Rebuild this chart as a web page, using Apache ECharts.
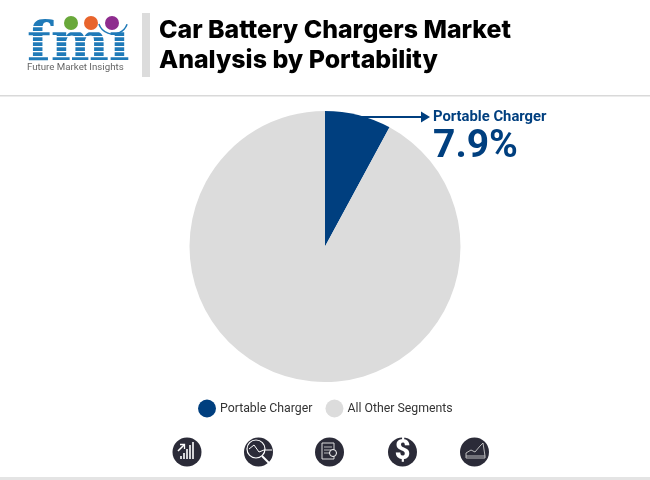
<!DOCTYPE html>
<html><head><meta charset="utf-8">
<style>html,body{margin:0;padding:0;background:#fff}#c{width:650px;height:480px}</style>
<script src="https://cdn.jsdelivr.net/npm/echarts@6/dist/echarts.min.js"></script></head>
<body><div id="c"></div>
<script>
const categories = ['Portable Charger', 'All Other Segments'];
const values = [7.9, 92.1];
const colors = ['#003f7f', '#dcdcdc'];
const titleLines = ['Car Battery Chargers Market', 'Analysis by Portability'];
const calloutName = 'Portable Charger';
const calloutValue = '7.9%';
const logoName = 'Future Market Insights';

const DARK = '#2b2b38', BLUE = '#1f7ab8', NAVY = '#003f7f';
const g = [];
const rect = (x, y, w, h, fill, z) => g.push({type:'rect', shape:{x,y,width:w,height:h}, style:{fill}, z:z||10});
const circ = (cx, cy, r, fill, z) => g.push({type:'circle', shape:{cx,cy,r}, style:{fill}, z:z||10});
const line = (pts, stroke, w, z) => g.push({type:'polyline', shape:{points:pts}, style:{stroke, lineWidth:w, fill:null}, z:z||12});
const text = (x, y, t, font, fill, extra) => g.push({type:'text', x, y, style:Object.assign({text:t, font, fill, verticalAlign:'top'}, extra||{}), z:12});

// rules and title
rect(0, 95, 650, 1.5, '#d9d9d9');
rect(0, 477, 650, 3, '#e4e4e4');
rect(142, 13, 8, 64, '#dcdcdc');
text(159, 18, titleLines[0], '800 24.9px Inter', '#000');
text(159, 48, titleLines[1], '800 24.9px Inter', '#000');

// logo
text(27, 18, 'fmı', 'bold 55px "DejaVu Serif"', BLUE);
[26,31,36,41,46,51,56,61].forEach(y => rect(24, y, 106, 1.2, '#fff', 13));
circ(71, 23, 7, '#69a83a', 14);
circ(91, 23, 7, '#e8642c', 14);
circ(112, 23, 7, '#8e2c8e', 14);
g.push({type:'arc', shape:{cx:113, cy:19, r:15, startAngle:0.35, endAngle:2.8, clockwise:true}, style:{stroke:BLUE, lineWidth:1.5, fill:null}, z:14});
text(27, 63, logoName, '9.7px Roboto', '#666');

// callout
line([[352,117],[424,117]], NAVY, 2);
g.push({type:'polygon', shape:{points:[[421,111.5],[430,117],[421,122.5]]}, style:{fill:NAVY}, z:12});
text(433, 110, calloutName, 'bold 14.8px Roboto', NAVY);
text(433, 128, calloutValue, 'bold 39px Roboto', NAVY);

// icons
const icons = [187, 258.5, 329.5, 402.5, 474.5];
icons.forEach(x => circ(x, 452, 14.5, DARK));
// 1 bars + arrow
[[-6,3],[-3,6],[0,10],[3,14],[6,17]].forEach(b => rect(187+b[0]-0.8, 461-b[1]-2, 1.6, b[1], '#fff', 12));
line([[178,451],[184,445]], '#fff', 1.6);
line([[180,444.5],[184.5,444.5],[184.5,449]], '#fff', 1.3);
// 2 magnifier
g.push({type:'circle', shape:{cx:256,cy:449,r:9}, style:{stroke:'#fff',lineWidth:1.2,fill:null}, z:12});
line([[249,449],[254,445],[259,452],[264,450],[272,450]], '#fff', 1);
line([[262,456],[270,464]], '#fff', 2);
// 3 document
g.push({type:'rect', shape:{x:322,y:443,width:12,height:16}, style:{stroke:'#ddd',lineWidth:1,fill:null}, z:12});
[447,450,453].forEach(y => line([[324,y],[332,y]], '#ddd', 0.8));
g.push({type:'circle', shape:{cx:333,cy:453,r:3.5}, style:{stroke:'#fff',lineWidth:1,fill:DARK}, z:13});
// 4 dollar
text(402.5, 439, '$', '900 27px Roboto', '#fff', {align:'center'});
// 5 area chart
line([[466,458],[466,453],[471,450],[475,452],[480,446],[483,443],[485,456],[485,458],[466,458]], '#ccc', 0.9);
line([[466,456],[485,456]], '#ccc', 0.9);

const option = {
  animation: false,
  backgroundColor: '#fff',
  textStyle: {fontFamily: 'Roboto'},
  legend: {
    data: categories, left: 193, top: 394.5, icon: 'circle',
    itemWidth: 18, itemHeight: 18, itemGap: 13,
    textStyle: {fontSize: 12.3, color: '#333', fontFamily: 'Roboto', padding: [0,0,0,-1]},
    selectedMode: false
  },
  series: [{
    type: 'pie', center: [325, 246.5], radius: [0, 135.5],
    startAngle: 90, clockwise: true, silent: true,
    label: {show: false}, labelLine: {show: false},
    data: categories.map((name, i) => ({name, value: values[i], itemStyle: {color: colors[i]}}))
  }],
  graphic: {elements: g}
};
echarts.init(document.getElementById('c'), null, {renderer: 'canvas'}).setOption(option);
</script></body></html>
